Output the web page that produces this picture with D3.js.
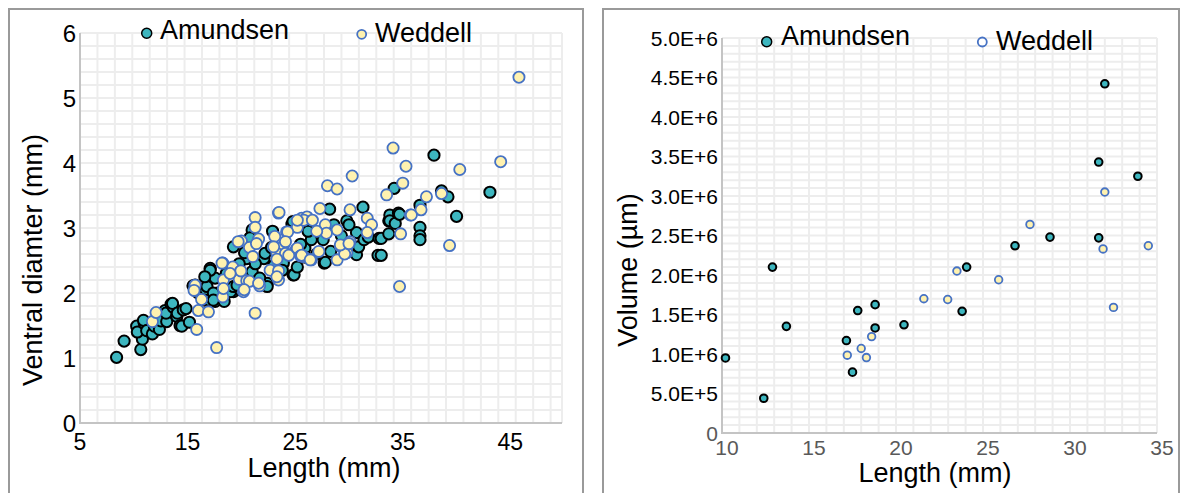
<!DOCTYPE html>
<html>
<head>
<meta charset="utf-8">
<script src="https://cdn.jsdelivr.net/npm/d3@7"></script>
<style>
  body { margin: 0; background: #fff; }
  svg { display: block; }
  text { font-family: "Liberation Sans", Arial, sans-serif; }
</style>
</head>
<body>
<svg id="chart" width="1180" height="493"></svg>
<script>
// ---- data --------------------------------------------------------------
const seriesNames = ["Amundsen", "Weddell"];

// Ventral diameter (mm) against length (mm)
const diamAmundsen = [
  [8.4,1.01],[9.1,1.26],[10.65,1.13],[10.8,1.29],[10.27,1.49],[10.33,1.40],[10.98,1.53],[10.9,1.58],
  [11.2,1.42],[11.73,1.37],[11.91,1.49],[12.38,1.44],[12.53,1.57],[12.9,1.73],[13.06,1.56],[13.0,1.69],
  [13.47,1.83],[13.68,1.78],[13.6,1.84],[14.0,1.64],[14.05,1.69],[14.3,1.50],[14.46,1.49],[14.6,1.74],
  [14.86,1.76],[15.17,1.55],[15.5,2.11],[15.7,2.12],[16.0,2.0],[16.7,2.05],[16.6,1.89],[16.8,2.10],
  [17.0,1.89],[17.1,2.38],[17.56,2.23],[17.77,2.0],[17.56,1.87],[18.4,1.87],[19.26,2.02],[19.0,2.02],
  [19.9,2.05],[19.26,2.10],[17.1,2.35],[16.6,2.25],[17.4,2.0],[17.4,1.89],[19.26,2.71],[20.5,2.53],
  [19.6,2.12],[21.0,2.33],[22.4,2.15],[22.1,2.53],[22.2,2.61],[22.4,2.10],[21.7,2.23],[21.0,2.97],
  [23.6,2.58],[23.6,2.66],[23.9,2.46],[23.8,2.35],[24.8,2.28],[24.9,2.28],[24.8,3.05],[24.7,3.06],
  [24.8,3.10],[25.2,2.40],[25.9,2.69],[26.5,2.82],[27.6,2.82],[27.7,2.46],[27.8,2.47],[28.3,2.64],
  [28.2,3.29],[28.6,3.05],[29.8,3.11],[30.7,2.93],[30.7,2.59],[30.9,2.71],[31.3,3.32],[31.4,2.82],
  [31.8,2.86],[32.7,2.58],[32.8,2.84],[33.0,2.84],[33.0,2.58],[33.7,3.11],[33.7,2.91],[33.8,3.20],
  [33.8,3.11],[34.2,3.61],[34.3,3.07],[34.6,3.23],[34.7,3.21],[36.6,3.35],[36.6,3.01],[36.6,2.88],
  [36.6,2.82],[37.9,4.12],[38.6,3.57],[39.2,3.48],[40.0,3.18],[43.1,3.55],
  [18.6,2.30],[19.8,2.45],[20.3,2.62],[21.3,2.45],[22.8,2.70],[23.0,2.42],[25.5,2.75],[26.2,2.95],
  [27.0,2.60],[29.3,2.88],[30.0,3.05],[26.0,2.55],[22.9,2.95],[20.8,2.85]
];
const diamWeddell = [
  [11.73,1.56],[12.07,1.70],[15.85,1.44],[17.7,1.16],[16.0,1.73],[16.94,1.71],[15.7,2.12],[16.3,1.90],
  [15.6,2.04],[18.27,2.46],[18.33,2.2],[18.27,1.94],[18.33,2.07],[19.2,2.40],[19.9,2.33],[19.8,2.21],
  [20.2,2.02],[20.5,2.19],[21.28,3.16],[23.45,3.23],[21.28,3.01],[20.0,2.80],[21.6,2.83],[20.75,2.70],
  [23.1,2.87],[23.9,2.72],[24.2,2.94],[25.2,3.01],[25.6,3.15],[23.3,2.61],[25.1,2.67],[25.8,2.56],
  [21.06,2.56],[18.2,2.46],[19.95,2.34],[20.75,2.18],[21.7,2.11],[22.67,2.35],[23.45,2.34],[23.45,2.2],
  [18.95,2.30],[20.26,2.05],[21.28,1.69],[19.7,2.79],[21.4,2.76],[23.0,2.71],[24.1,2.61],[24.4,2.58],
  [21.6,2.15],[23.3,2.25],[30.3,3.80],[28.0,3.65],[28.9,3.60],[23.5,3.24],[33.5,3.51],[35.0,3.69],
  [27.3,3.30],[30.1,3.28],[26.1,3.17],[25.8,3.12],[26.6,3.12],[27.8,3.05],[28.9,2.97],[31.7,3.15],
  [32.1,3.05],[31.7,2.93],[34.8,2.91],[35.7,3.2],[24.3,2.94],[25.2,2.69],[24.1,2.79],[25.5,2.57],
  [26.5,2.51],[27.2,2.64],[28.9,2.51],[29.8,2.62],[30.1,2.79],[29.2,2.72],[27.9,2.92],[27.0,2.95],
  [23.3,2.52],[34.7,2.10],[34.1,4.23],[35.3,3.95],[40.3,3.90],[44.1,4.02],[38.6,3.53],[37.2,3.48],
  [36.7,3.28],[35.8,3.20],[39.35,2.73],[45.8,5.32],[25.6,2.58],[26.4,2.51],[29.6,2.60],[29.2,2.74],
  [30.0,2.76],[25.2,3.12]
];

// Volume (µm) against length (mm)
const volAmundsen = [
  [10.2,0.95e6],[12.4,0.44e6],[12.9,2.10e6],[13.7,1.35e6],[17.15,1.17e6],[17.5,0.77e6],[17.8,1.55e6],
  [18.8,1.625e6],[18.8,1.33e6],[20.46,1.37e6],[23.8,1.54e6],[24.06,2.10e6],[26.84,2.37e6],[28.85,2.48e6],
  [31.65,2.47e6],[31.65,3.43e6],[32.0,4.42e6],[33.9,3.25e6]
];
const volWeddell = [
  [17.2,0.985e6],[18.0,1.07e6],[18.3,0.955e6],[18.6,1.22e6],[21.6,1.70e6],[22.97,1.69e6],[23.5,2.05e6],
  [25.9,1.94e6],[27.7,2.64e6],[31.9,2.33e6],[32.0,3.05e6],[32.5,1.59e6],[34.5,2.37e6]
];

const diamXTicks = [5, 15, 25, 35, 45];
const diamYTicks = [0, 1, 2, 3, 4, 5, 6];
const volXTicks = [10, 15, 20, 25, 30, 35];
const volYTicks = [0, 5e5, 1e6, 1.5e6, 2e6, 2.5e6, 3e6, 3.5e6, 4e6, 4.5e6, 5e6];

// ---- styling -----------------------------------------------------------
const TEAL = "#3db6bf", YELLOW = "#fff2b0", BLUE = "#4672c4";
const GRID = "#ededed", AXIS = "#c4c4c4", FRAME = "#9a9a9a";

const svg = d3.select("#chart");

// panel frames (open at the bottom)
function frame(x0, x1, y0) {
  svg.append("path")
    .attr("d", `M${x0},500 L${x0},${y0} L${x1},${y0} L${x1},500`)
    .attr("fill", "none").attr("stroke", FRAME).attr("stroke-width", 2);
}
frame(9, 583, 9);
frame(603, 1179, 9);

function panel(cfg) {
  const g = svg.append("g");
  const x = d3.scaleLinear().domain(cfg.xDomain).range(cfg.xRange);
  const y = d3.scaleLinear().domain(cfg.yDomain).range(cfg.yRange);

  // grid
  const gx = d3.range(cfg.xDomain[0], cfg.xDomain[1] + 1e-9, cfg.xGrid);
  const gy = d3.range(cfg.yDomain[0], cfg.yDomain[1] + 1e-9, cfg.yGrid);
  g.append("g").selectAll("line").data(gx).join("line")
    .attr("x1", d => x(d)).attr("x2", d => x(d))
    .attr("y1", cfg.yRange[0]).attr("y2", cfg.yRange[1])
    .attr("stroke", GRID).attr("stroke-width", 2);
  g.append("g").selectAll("line").data(gy).join("line")
    .attr("y1", d => y(d)).attr("y2", d => y(d))
    .attr("x1", cfg.xRange[0]).attr("x2", cfg.xRange[1])
    .attr("stroke", GRID).attr("stroke-width", 2);
  // right / top edge of grid
  g.append("line").attr("x1", cfg.xRange[1]).attr("x2", cfg.xRange[1])
    .attr("y1", cfg.yRange[0]).attr("y2", cfg.yRange[1]).attr("stroke", GRID).attr("stroke-width", 2);
  g.append("line").attr("x1", cfg.xRange[0]).attr("x2", cfg.xRange[1])
    .attr("y1", cfg.yRange[1]).attr("y2", cfg.yRange[1]).attr("stroke", GRID).attr("stroke-width", 2);

  // axis lines
  g.append("line").attr("x1", cfg.xRange[0]).attr("x2", cfg.xRange[0])
    .attr("y1", cfg.yRange[0] + 1).attr("y2", cfg.yRange[1]).attr("stroke", AXIS).attr("stroke-width", 2);
  g.append("line").attr("x1", cfg.xRange[0] - 1).attr("x2", cfg.xRange[1])
    .attr("y1", cfg.yRange[0]).attr("y2", cfg.yRange[0]).attr("stroke", AXIS).attr("stroke-width", 2);

  // tick labels
  g.append("g").selectAll("text").data(cfg.xTicks).join("text")
    .attr("x", d => x(d) + cfg.xLabelDx).attr("y", cfg.xLabelY)
    .attr("text-anchor", "middle").attr("font-size", cfg.xTickSize)
    .attr("fill", cfg.xTickColor).text(d => d);
  g.append("g").selectAll("text").data(cfg.yTicks).join("text")
    .attr("x", cfg.yLabelX).attr("y", d => y(d)).attr("dy", "0.36em")
    .attr("text-anchor", "end").attr("font-size", cfg.yTickSize)
    .attr("fill", d => d === 0 ? cfg.yZeroColor : "#000").text(cfg.yFormat);

  // axis titles
  g.append("text").attr("x", cfg.xTitle[0]).attr("y", cfg.xTitle[1])
    .attr("text-anchor", "middle").attr("font-size", 27).text("Length (mm)");
  g.append("text")
    .attr("transform", `translate(${cfg.yTitle[0]},${cfg.yTitle[1]}) rotate(-90)`)
    .attr("text-anchor", "middle").attr("font-size", 27).text(cfg.yTitleText);

  // points: Amundsen below, Weddell on top
  g.append("g").selectAll("circle").data(cfg.a).join("circle")
    .attr("cx", d => x(d[0])).attr("cy", d => y(d[1])).attr("r", cfg.r)
    .attr("fill", TEAL).attr("stroke", "#000").attr("stroke-width", cfg.swA);
  g.append("g").selectAll("circle").data(cfg.w).join("circle")
    .attr("cx", d => x(d[0])).attr("cy", d => y(d[1])).attr("r", cfg.r)
    .attr("fill", YELLOW).attr("stroke", BLUE).attr("stroke-width", cfg.swW);

  // legend
  const L = cfg.legend;
  g.append("circle").attr("cx", L.a[0]).attr("cy", L.a[1]).attr("r", 5)
    .attr("fill", TEAL).attr("stroke", "#000").attr("stroke-width", 1.5);
  g.append("text").attr("x", L.a[2]).attr("y", L.a[3]).attr("font-size", 27).text(seriesNames[0]);
  g.append("circle").attr("cx", L.w[0]).attr("cy", L.w[1]).attr("r", 4.5)
    .attr("fill", L.wFill).attr("stroke", BLUE).attr("stroke-width", 1.8);
  g.append("text").attr("x", L.w[2]).attr("y", L.w[3]).attr("font-size", 27).text(seriesNames[1]);
}

panel({
  xDomain: [5, 49.8], xRange: [80, 562],
  yDomain: [0, 6], yRange: [423, 33],
  xGrid: 1.62, yGrid: 0.2,
  xTicks: diamXTicks, yTicks: diamYTicks,
  xLabelY: 450, xLabelDx: 0, xTickSize: 23, xTickColor: "#000",
  yLabelX: 76, yTickSize: 24, yZeroColor: "#000", yFormat: d => d,
  xTitle: [324, 477], yTitle: [42, 260], yTitleText: "Ventral diamter (mm)",
  a: diamAmundsen, w: diamWeddell, r: 5.6, swA: 2, swW: 1.8,
  legend: { a: [146.7, 33.3, 160, 39], w: [361.7, 34.3, 375, 41.5], wFill: YELLOW }
});

panel({
  xDomain: [10, 35], xRange: [722, 1157],
  yDomain: [0, 5e6], yRange: [433, 38],
  xGrid: 1, yGrid: 1e5,
  xTicks: volXTicks, yTicks: volYTicks,
  xLabelY: 455, xLabelDx: 5, xTickSize: 21, xTickColor: "#595959",
  yLabelX: 718, yTickSize: 21, yZeroColor: "#595959",
  yFormat: d => d === 0 ? "0" : d3.format(".1e")(d).toUpperCase(),
  xTitle: [935, 482], yTitle: [637, 270], yTitleText: "Volume (µm)",
  a: volAmundsen, w: volWeddell, r: 3.8, swA: 2, swW: 1.8,
  legend: { a: [766.7, 41.7, 781, 45], w: [982.3, 42, 996, 50], wFill: "#fff" }
});
</script>
</body>
</html>
